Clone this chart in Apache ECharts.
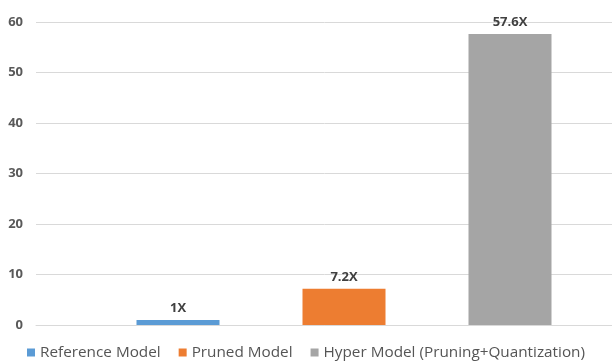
<!DOCTYPE html>
<html>
<head>
<meta charset="utf-8">
<script src="https://cdn.jsdelivr.net/npm/echarts@6/dist/echarts.min.js"></script>
<style>html,body{margin:0;padding:0;background:#fff;}#chart{width:612px;height:362px;}</style>
</head>
<body>
<div id="chart"></div>
<script>
const seriesNames = ['Reference Model', 'Pruned Model', 'Hyper Model (Pruning+Quantization)'];
const speedups = [1, 7.2, 57.6];
const colors = ['#5B9BD5', '#ED7D31', '#A5A5A5'];
const yTicks = [0, 10, 20, 30, 40, 50, 60];

const chart = echarts.init(document.getElementById('chart'), null, {renderer: 'canvas'});
const font = '"Open Sans", sans-serif';
chart.setOption({
  animation: false,
  grid: {left: 36, top: 22, width: 616, height: 303, containLabel: false, outerBoundsMode: 'none'},
  legend: {
    bottom: -3, left: 'center', icon: 'rect', itemWidth: 8, itemHeight: 8, itemGap: 18,
    textStyle: {fontFamily: font, fontSize: 15.3, color: '#555555'},
    data: seriesNames
  },
  xAxis: {
    type: 'category', data: [''],
    axisLine: {lineStyle: {color: '#D9D9D9'}}, axisTick: {show: false}, axisLabel: {show: false}
  },
  yAxis: {
    type: 'value', min: yTicks[0], max: yTicks[yTicks.length - 1], interval: 10,
    axisLine: {show: false}, axisTick: {show: false},
    axisLabel: {fontFamily: font, fontSize: 13, fontWeight: 'bold', color: '#595959', margin: 13},
    splitLine: {lineStyle: {color: '#D9D9D9', width: 1}}
  },
  series: seriesNames.map((name, i) => ({
    name: name, type: 'bar', data: [speedups[i]], barWidth: 83, barGap: '100%',
    itemStyle: {color: colors[i]},
    label: {show: true, position: 'top', distance: 5, formatter: '{c}X',
      fontFamily: font, fontSize: 13, fontWeight: 'bold', color: '#404040'}
  }))
});
</script>
</body>
</html>
